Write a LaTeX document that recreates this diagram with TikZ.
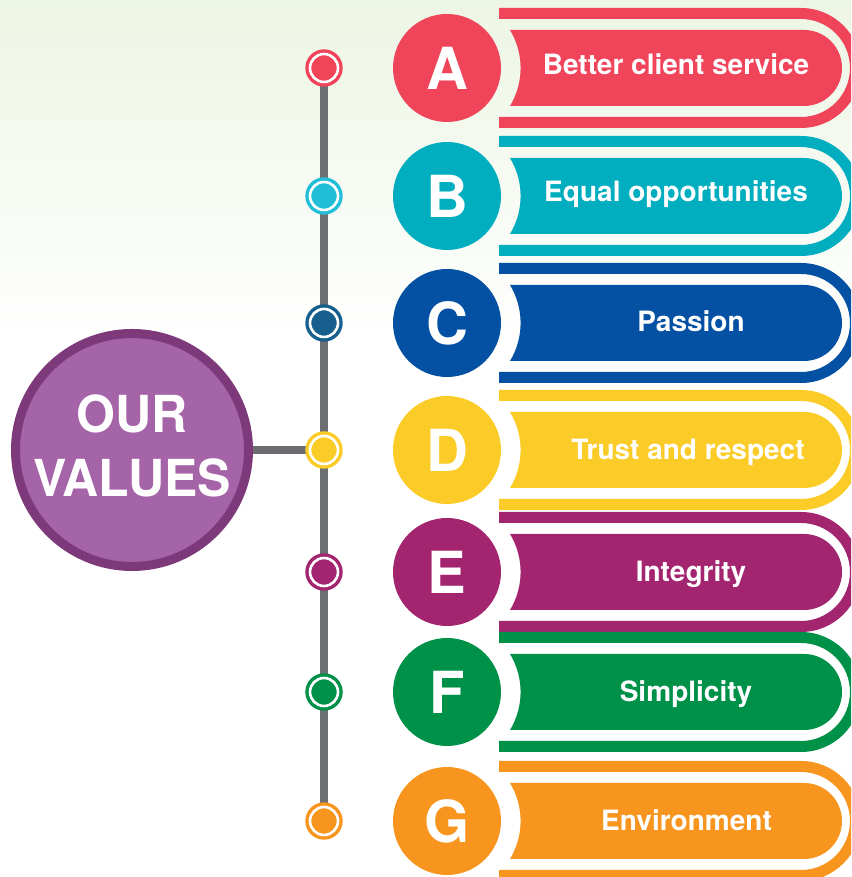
\documentclass[tikz,border=0pt]{standalone}
\usepackage{fontspec}
\setmainfont{TeX Gyre Heros}
\newfontfamily\narrowfont[FakeStretch=0.98]{TeX Gyre Heros}
\definecolor{cA}{HTML}{EF4459}
\definecolor{cB}{HTML}{00AEBF}
\definecolor{dB}{HTML}{22BED8}
\definecolor{cC}{HTML}{0450A3}
\definecolor{dC}{HTML}{17608E}
\definecolor{cD}{HTML}{FBCC27}
\definecolor{cE}{HTML}{A4256F}
\definecolor{cF}{HTML}{009149}
\definecolor{cG}{HTML}{F7951F}
\definecolor{pout}{HTML}{7D3979}
\definecolor{pin}{HTML}{A563A8}
\definecolor{linegray}{HTML}{6D6E72}
\definecolor{bgtop}{HTML}{EDF5E4}
\pgfdeclarelayer{back}
\pgfdeclarelayer{bg}
\pgfsetlayers{back,bg,main}
\tikzset{
  letterdisc/.style={circle, inner sep=0pt, minimum size=108pt, text=white,
    font=\fontsize{58}{60}\selectfont\bfseries},
  valuelabel/.style={text=white, inner sep=0pt, anchor=base,
    font=\fontsize{28}{30}\selectfont\bfseries},
  dotnode/.style={circle, inner sep=0pt, minimum size=37.4pt},
  connector/.style={linegray, line width=8pt},
  bigtxt/.style={text=white, inner sep=0pt, font=\narrowfont\fontsize{51}{55}\selectfont\bfseries}
}
% #1 row pixel y, #2 colour, #3 dot colour, #4 letter, #5 text, #6 text x, #7 text cap-centre pixel y
\newcommand\valuerow[7]{%
  \pgfmathsetmacro\Y{877-#1}%
  \pgfmathsetmacro\T{877-#7-10}%
  \fill[#2] (499,\Y+60) -- (801,\Y+60) arc[start angle=90,end angle=-90,radius=60] -- (499,\Y-60)
     -- (499,\Y-49) -- (801,\Y-49) arc[start angle=-90,end angle=90,radius=49] -- (499,\Y+49) -- cycle;
  \fill[#2] (510,\Y-38) -- (804,\Y-38) arc[start angle=-90,end angle=90,radius=38]
     -- (510,\Y+38) arc[start angle=31.1,end angle=-31.1,radius=73.6] -- cycle;
  \node[letterdisc, fill=#2] (let#4) at (447,\Y) {#4};
  \node[valuelabel] (txt#4) at (#6,\T) {#5};
  \node[dotnode, fill=#3] (dot#4) at (324,\Y) {};
  \draw[white, line width=2.6pt] (dot#4.center) circle[radius=14];
}
\begin{document}
\begin{tikzpicture}[x=1pt,y=1pt]
\useasboundingbox (0,0) rectangle (851,877);
\clip (0,0) rectangle (851,877);
\begin{pgfonlayer}{back}
  \fill[white] (0,0) rectangle (851,877);
  \shade[top color=bgtop, bottom color=white] (0,537) rectangle (851,877);
\end{pgfonlayer}

\valuerow{68}{cA}{cA}{A}{Better client service}{676}{64.5}
\valuerow{196}{cB}{dB}{B}{Equal opportunities}{676}{192}
\valuerow{323}{cC}{dC}{C}{Passion}{691}{322}
\valuerow{450}{cD}{cD}{D}{Trust and respect}{688}{450}
\valuerow{572}{cE}{cE}{E}{Integrity}{691}{572}
\valuerow{692}{cF}{cF}{F}{Simplicity}{686}{692}
\valuerow{821}{cG}{cG}{G}{Environment}{686.5}{821}

\node[circle, inner sep=0pt, minimum size=233pt, fill=pin, draw=pout, line width=9pt] (ourvalues) at (132,427) {};
\node[bigtxt] (our) at (132,877-413.5) {OUR};
\node[bigtxt] (values) at (132,877-477.5) {VALUES};

\begin{pgfonlayer}{bg}
  \draw[connector] (dotA.center) -- (dotG.center);
  \draw[connector] (ourvalues.east) -- (dotD.center);
\end{pgfonlayer}
\end{tikzpicture}
\end{document}
